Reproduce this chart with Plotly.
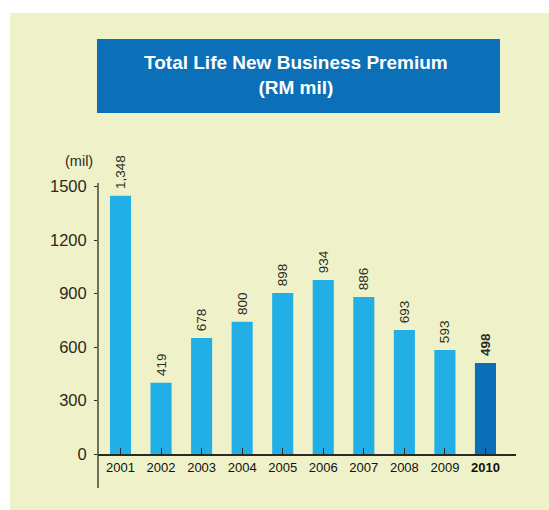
import plotly.graph_objects as go

years = ["2001", "2002", "2003", "2004", "2005", "2006", "2007", "2008", "2009", "2010"]
year_ticks = ["2001", "2002", "2003", "2004", "2005", "2006", "2007", "2008", "2009", "<b>2010</b>"]
bar_heights = [1448, 400, 651, 742, 903, 976, 881, 696, 584, 511]
bar_labels = ["1,348", "419", "678", "800", "898", "934", "886", "693", "593", "<b>498</b>"]
y_ticks = [0, 300, 600, 900, 1200, 1500]

LIGHT = "#22afe6"
DARK = "#0a6fb7"
TXT = "#2a2a22"
colors = [LIGHT] * 9 + [DARK]
FONT = "Liberation Sans"

W, H = 549, 510
L, R, T, B = 98, 33, 183, 56
pw, ph = W - L - R, H - T - B

def px(q):
    return (q - L) / pw

def py(p):
    return (H - B - p) / ph

fig = go.Figure()
fig.add_trace(go.Bar(
    x=list(range(len(years))), y=bar_heights,
    marker=dict(color=colors, line=dict(width=0)),
    width=0.52,
    text=["\u00a0" + t for t in bar_labels], textposition="outside", textangle=-90,
    textfont=dict(family=FONT, size=13.5, color=TXT),
    constraintext="none", cliponaxis=False, hoverinfo="skip",
))

shapes = [
    dict(type="rect", xref="paper", yref="paper", x0=px(10), x1=px(560), y0=py(520), y1=py(13),
         fillcolor="#eff2c8", line=dict(width=0), layer="below"),
    dict(type="rect", xref="paper", yref="paper", x0=px(97), x1=px(500), y0=py(113), y1=py(39),
         fillcolor="#0b70b8", line=dict(width=0), layer="below"),
    dict(type="line", xref="paper", yref="paper", x0=0, x1=0, y0=py(488), y1=1,
         line=dict(color=TXT, width=1.3)),
]

annotations = [
    dict(text="<b>Total Life New Business Premium<br>(RM mil)</b>", xref="paper", yref="paper",
         x=px(296), y=py(75), xanchor="center", yanchor="middle", showarrow=False,
         font=dict(family=FONT, size=19, color="white"), align="center"),
    dict(text="(mil)", xref="paper", yref="paper", x=px(79), y=py(161),
         xanchor="center", yanchor="middle", showarrow=False,
         font=dict(family=FONT, size=14.5, color=TXT)),
]

fig.update_layout(
    width=W, height=H,
    margin=dict(l=L, r=R, t=T, b=B),
    paper_bgcolor="white", plot_bgcolor="rgba(0,0,0,0)",
    showlegend=False, bargap=0.48,
    shapes=shapes, annotations=annotations,
    xaxis=dict(
        range=[-0.555, 9.753], tickmode="array", tickvals=list(range(len(years))),
        ticktext=year_ticks, tickson="boundaries", ticks="inside", ticklen=6,
        tickcolor=TXT, tickwidth=1, showline=True, linecolor=TXT, linewidth=2,
        showgrid=False, zeroline=False,
        tickfont=dict(family=FONT, size=13, color="#111"),
    ),
    yaxis=dict(
        range=[0, 1520], tickmode="array", tickvals=y_ticks,
        ticks="outside", ticklen=3, tickcolor=TXT, showline=False,
        showgrid=False, zeroline=False, ticklabelstandoff=4,
        tickfont=dict(family=FONT, size=16.5, color=TXT),
    ),
)

fig.write_html(
    "out.html",
    config={"displayModeBar": False, "staticPlot": True},
    post_script="document.body.style.margin='0';document.body.style.overflow='hidden';",
)
